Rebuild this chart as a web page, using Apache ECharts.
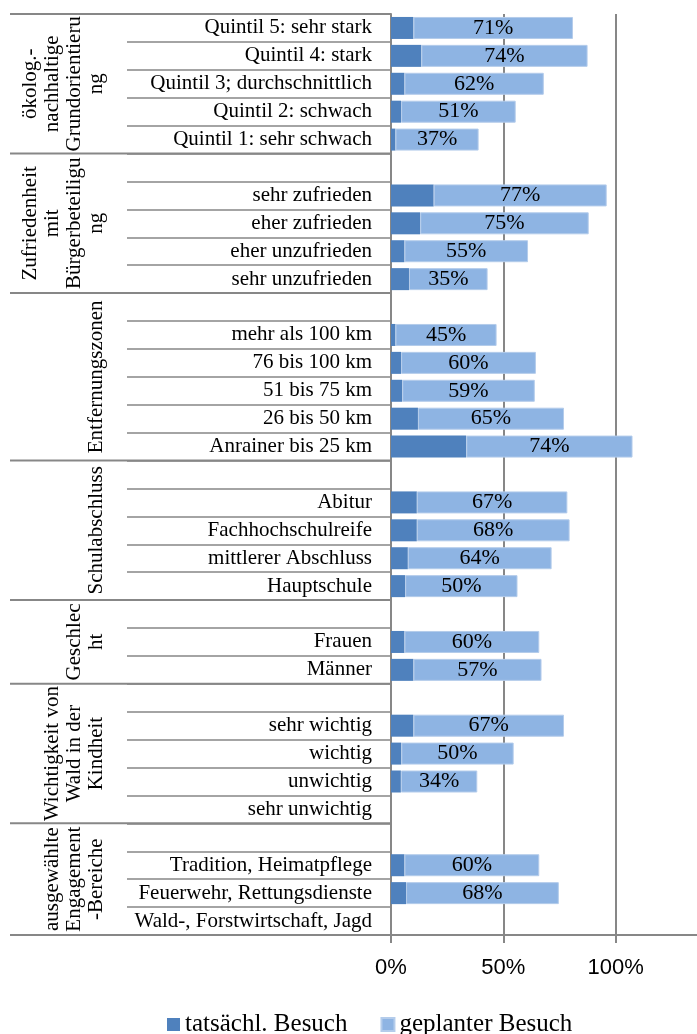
<!DOCTYPE html>
<html>
<head>
<meta charset="utf-8">
<script src="https://cdn.jsdelivr.net/npm/echarts@6/dist/echarts.min.js"></script>
<style>html,body{margin:0;padding:0;background:#fff}#c{width:697px;height:1034px}</style>
</head>
<body>
<div id="c"></div>
<script>
const categories = [
  'Quintil 5: sehr stark','Quintil 4: stark','Quintil 3; durchschnittlich','Quintil 2: schwach','Quintil 1: sehr schwach',
  '',
  'sehr zufrieden','eher zufrieden','eher unzufrieden','sehr unzufrieden',
  '',
  'mehr als 100 km','76 bis 100 km','51 bis 75 km','26 bis 50 km','Anrainer bis 25 km',
  '',
  'Abitur','Fachhochschulreife','mittlerer Abschluss','Hauptschule',
  '',
  'Frauen','Männer',
  '',
  'sehr wichtig','wichtig','unwichtig','sehr unwichtig',
  '',
  'Tradition, Heimatpflege','Feuerwehr, Rettungsdienste','Wald-, Forstwirtschaft, Jagd'
];
const tatsaechlich = [10, 13.5, 6, 4.5, 2, null, 19, 13, 6, 8, null, 2, 4.5, 5, 12, 33.5, null, 11.5, 11.5, 7.5, 6.3, null, 6, 10, null, 10, 4.6, 4.4, null, null, 6, 6.7, null];
const geplant = [71, 74, 62, 51, 37, null, 77, 75, 55, 35, null, 45, 60, 59, 65, 74, null, 67, 68, 64, 50, null, 60, 57, null, 67, 50, 34, null, null, 60, 68, null];
const xTicks = [0, 50, 100, 150];
const groupLabels = ['ökolog.-\nnachhaltige\nGrundorientieru\nng', 'Zufriedenheit\nmit\nBürgerbeteiligu\nng', 'Entfernungszonen', 'Schulabschluss', 'Geschlec\nht', 'Wichtigkeit von\nWald in der\nKindheit', 'ausgewählte\nEngagement\n-Bereiche'];
const groupStart = [0, 5, 10, 16, 21, 24, 29];
const groupEnd = [4, 9, 15, 20, 23, 28, 32];

const serif = '"Liberation Serif", "Times New Roman", serif';
const grey = '#878787';
const chart = echarts.init(document.getElementById('c'));
const option = {
  animation: false,
  grid: {left: 391, top: 14, width: 337, bottom: 99, containLabel: false, outerBoundsMode: 'none'},
  legend: {
    left: 162, top: 1007, itemWidth: 13, itemHeight: 13, itemGap: 33, icon: 'rect',
    textStyle: {fontFamily: serif, fontSize: 25, color: '#000'},
    data: ['tatsächl. Besuch', 'geplanter Besuch']
  },
  xAxis: {
    type: 'value', min: xTicks[0], max: xTicks[xTicks.length - 1], interval: 50,
    axisLine: {show: true, lineStyle: {color: grey, width: 2}},
    axisTick: {show: true, length: 8, lineStyle: {color: grey, width: 2}},
    splitLine: {show: true, lineStyle: {color: grey, width: 2}},
    axisLabel: {formatter: '{value}%', fontFamily: '"Liberation Sans", Arial, sans-serif', fontSize: 22, color: '#000', margin: 22}
  },
  yAxis: {
    type: 'category', inverse: true, data: categories,
    axisLine: {show: true, lineStyle: {color: grey, width: 2}},
    axisTick: {show: true, length: 264, lineStyle: {color: grey, width: 1.5}},
    axisLabel: {fontFamily: serif, fontSize: 21, color: '#000', margin: 19, interval: 0}
  },
  series: [
    {name: 'tatsächl. Besuch', type: 'bar', stack: 's', data: tatsaechlich, barWidth: 22,
     itemStyle: {color: '#4F81BD'}},
    {name: 'geplanter Besuch', type: 'bar', stack: 's', data: geplant, barWidth: 22,
     itemStyle: {color: '#8EB4E3', borderColor: '#B4CCEB', borderWidth: 1},
     label: {show: true, position: 'inside', formatter: '{c}%', fontFamily: serif, fontSize: 22, color: '#000'}}
  ]
};
chart.setOption(option);

const rowH = Math.abs(chart.convertToPixel({yAxisIndex: 0}, 1) - chart.convertToPixel({yAxisIndex: 0}, 0));
const axisX = chart.convertToPixel({xAxisIndex: 0}, 0);
const graphics = [];
const boundaries = groupStart.concat([groupEnd[groupEnd.length - 1] + 1]);
boundaries.forEach(function (b) {
  const y = chart.convertToPixel({yAxisIndex: 0}, Math.min(b, categories.length - 1)) + (b >= categories.length ? rowH / 2 : -rowH / 2);
  graphics.push({type: 'line', shape: {x1: 10, y1: y, x2: axisX, y2: y}, style: {stroke: grey, lineWidth: 2}, z: 10});
});
groupLabels.forEach(function (t, i) {
  const y0 = chart.convertToPixel({yAxisIndex: 0}, groupStart[i]) - rowH / 2;
  const y1 = chart.convertToPixel({yAxisIndex: 0}, groupEnd[i]) + rowH / 2;
  const n = t.split('\n').length;
  const lh = 22;
  const cx = 96 - (n - 1) * lh / 2;
  graphics.push({
    type: 'text', x: cx, y: (y0 + y1) / 2, rotation: Math.PI / 2, z: 10,
    style: {text: t, font: '21px ' + serif, textAlign: 'center', textVerticalAlign: 'middle', lineHeight: lh, fill: '#000'}
  });
});
chart.setOption({graphic: graphics});
</script>
</body>
</html>
